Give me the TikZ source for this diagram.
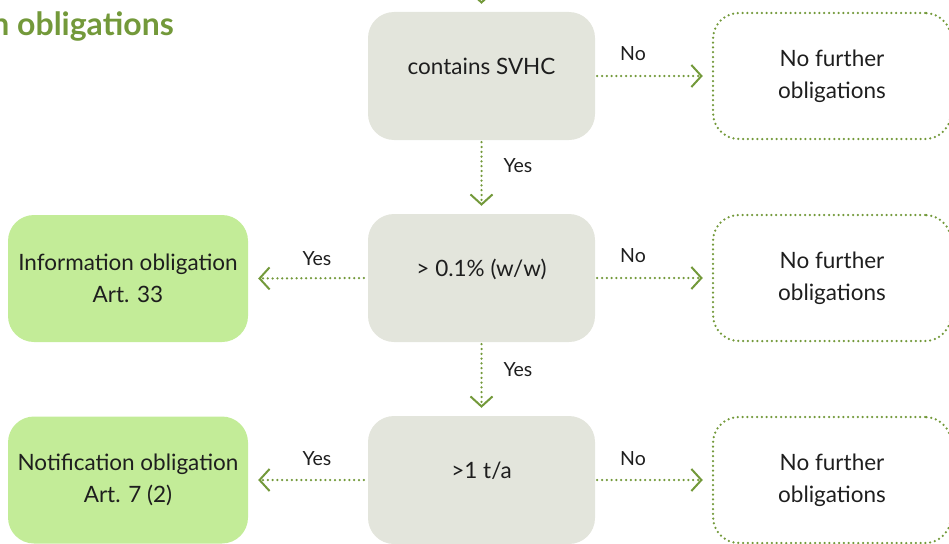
\documentclass[tikz,border=0pt]{standalone}
\usepackage{fontspec}
\setmainfont{Lato}
\usetikzlibrary{arrows.meta}
\definecolor{arrowgreen}{HTML}{73993A}
\definecolor{boxgray}{HTML}{E3E5DC}
\definecolor{boxgreen}{HTML}{C3EC98}
\definecolor{txt}{HTML}{1E1E1E}
\begin{document}
\begin{tikzpicture}[x=1pt,y=-1pt,
  every node/.style={text=txt},
  decision/.style={rectangle, rounded corners=26pt, fill=boxgray, minimum width=227pt, minimum height=128pt, font=\fontsize{22.5}{27}\selectfont, inner sep=0pt, text height=16pt, text depth=19pt},
  outcome/.style={rectangle, rounded corners=26pt, fill=boxgreen, minimum width=240pt, minimum height=127pt, font=\fontsize{22.5}{32}\selectfont, align=center, inner sep=0pt},
  nofurther/.style={rectangle, rounded corners=26pt, draw=arrowgreen, line width=2.5pt, dash pattern=on 0pt off 4.8pt, line cap=round, minimum width=238pt, minimum height=126pt, font=\fontsize{22.5}{32}\selectfont, align=center, inner sep=0pt},
  arr/.style={draw=arrowgreen, line width=2.5pt, dash pattern=on 0pt off 4.8pt, line cap=round, -{Straight Barb[length=10pt,width=22pt,line width=2pt]}},
  lbl/.style={font=\fontsize{19.5}{22}\selectfont, inner sep=0pt}
]
\useasboundingbox (0,0) rectangle (949,543);
\clip (0,0) rectangle (949,543);

% title (cut at left edge, as in the reference)
\node[anchor=base east, font=\fontsize{32}{36}\selectfont\bfseries, text=arrowgreen, inner sep=0pt] (title) at (174,36) {n obligations};

% decision boxes
\node[decision] (b1) at (481.5,76) {contains SVHC};
\node[decision] (b2) at (481.5,278) {> 0.1\% (w/w)};
\node[decision] (b3) at (481.5,480) {>1 t/a};

% outcome boxes
\node[outcome] (g1) at (128,278.5) {Information obligation\\Art. 33};
\node[outcome] (g2) at (128,480) {Notification obligation\\Art. 7 (2)};

% no further obligations
\node[nofurther] (n1) at (832,76) {No further\\obligations};
\node[nofurther] (n2) at (832,278) {No further\\obligations};
\node[nofurther] (n3) at (832,480) {No further\\obligations};

% connectors
\coordinate (top) at (481.5,-40);
\draw[arr, shorten >=8pt] (top) -- (b1.north);
\draw[arr, shorten <=2pt, shorten >=8pt] (b1.south) -- (b2.north);
\draw[arr, shorten <=2pt, shorten >=8pt] (b2.south) -- (b3.north);
\draw[arr, shorten <=2pt, shorten >=9pt] (b1.east) -- (n1.west);
\draw[arr, shorten <=2pt, shorten >=9pt] (b2.east) -- (n2.west);
\draw[arr, shorten <=2pt, shorten >=9pt] (b3.east) -- (n3.west);
\draw[arr, shorten <=4pt, shorten >=10pt] (b2.west) -- (g1.east);
\draw[arr, shorten <=4pt, shorten >=10pt] (b3.west) -- (g2.east);

% labels
\node[lbl] (l1) at (633,54) {No};
\node[lbl] (l2) at (633,256) {No};
\node[lbl] (l3) at (633,459) {No};
\node[lbl] (l4) at (518,166) {Yes};
\node[lbl] (l5) at (518,370) {Yes};
\node[lbl] (l6) at (317,259) {Yes};
\node[lbl] (l7) at (317,459) {Yes};
\end{tikzpicture}
\end{document}
